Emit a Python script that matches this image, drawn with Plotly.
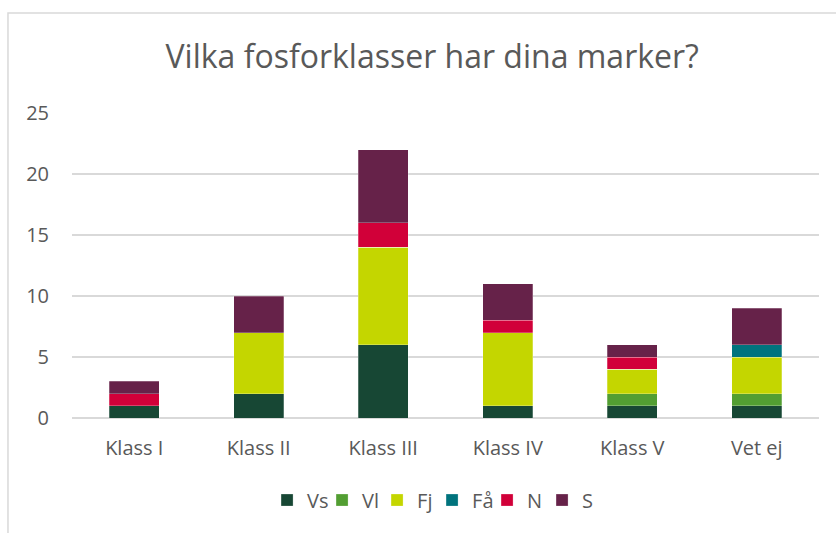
import plotly.graph_objects as go

categories = ["Klass I", "Klass II", "Klass III", "Klass IV", "Klass V", "Vet ej"]
series_names = ["Vs", "Vl", "Fj", "Få", "N", "S"]
vs = [1, 2, 6, 1, 1, 1]
vl = [0, 0, 0, 0, 1, 1]
fj = [0, 5, 8, 6, 2, 3]
fa = [0, 0, 0, 0, 0, 1]
n = [1, 0, 2, 1, 1, 0]
s = [1, 3, 6, 3, 1, 3]
colors = ["#174734", "#529E32", "#C4D600", "#00737D", "#D10039", "#662249"]

values = [vs, vl, fj, fa, n, s]

fig = go.Figure()
for name, vals, col in zip(series_names, values, colors):
    fig.add_trace(go.Bar(
        x=categories, y=vals, name=name,
        marker=dict(color=col, line=dict(color="rgba(255,255,255,0.5)", width=0.5)),
    ))

font_fam = "'Open Sans', sans-serif"
fig.update_layout(
    barmode="stack",
    bargap=0.6,
    width=836, height=533,
    margin=dict(l=72, r=17, t=113, b=115),
    paper_bgcolor="white", plot_bgcolor="white",
    title=dict(text="Vilka fosforklasser har dina marker?", x=0.517, xanchor="center",
               y=0.893, yanchor="middle",
               font=dict(family=font_fam, size=32, color="#595959")),
    font=dict(family=font_fam, color="#595959", size=20),
    xaxis=dict(showgrid=False, ticks="", showline=False, ticklabelstandoff=16,
               tickfont=dict(size=20, color="#595959")),
    yaxis=dict(range=[0, 25], dtick=5, showgrid=True, gridcolor="#d9d9d9", gridwidth=1.5,
               zeroline=True, zerolinecolor="#d9d9d9", zerolinewidth=1.5,
               ticks="", ticklabelstandoff=22,
               tickfont=dict(size=20, color="#595959")),
    legend=dict(orientation="h", x=0.482, xanchor="center", y=-0.269, yanchor="middle",
                font=dict(size=20, color="#595959"), traceorder="normal",
                itemwidth=30, tracegroupgap=0, entrywidth=10, entrywidthmode="pixels"),
    showlegend=True,
)

fig.add_shape(type="path", xref="paper", yref="paper",
              path="M 1.2,1.328 L -0.0857,1.328 L -0.0857,-0.6",
              line=dict(color="#d9d9d9", width=1.5))

fig.write_html("out.html", config={"displayModeBar": False},
               post_script="document.body.style.margin='0';")
